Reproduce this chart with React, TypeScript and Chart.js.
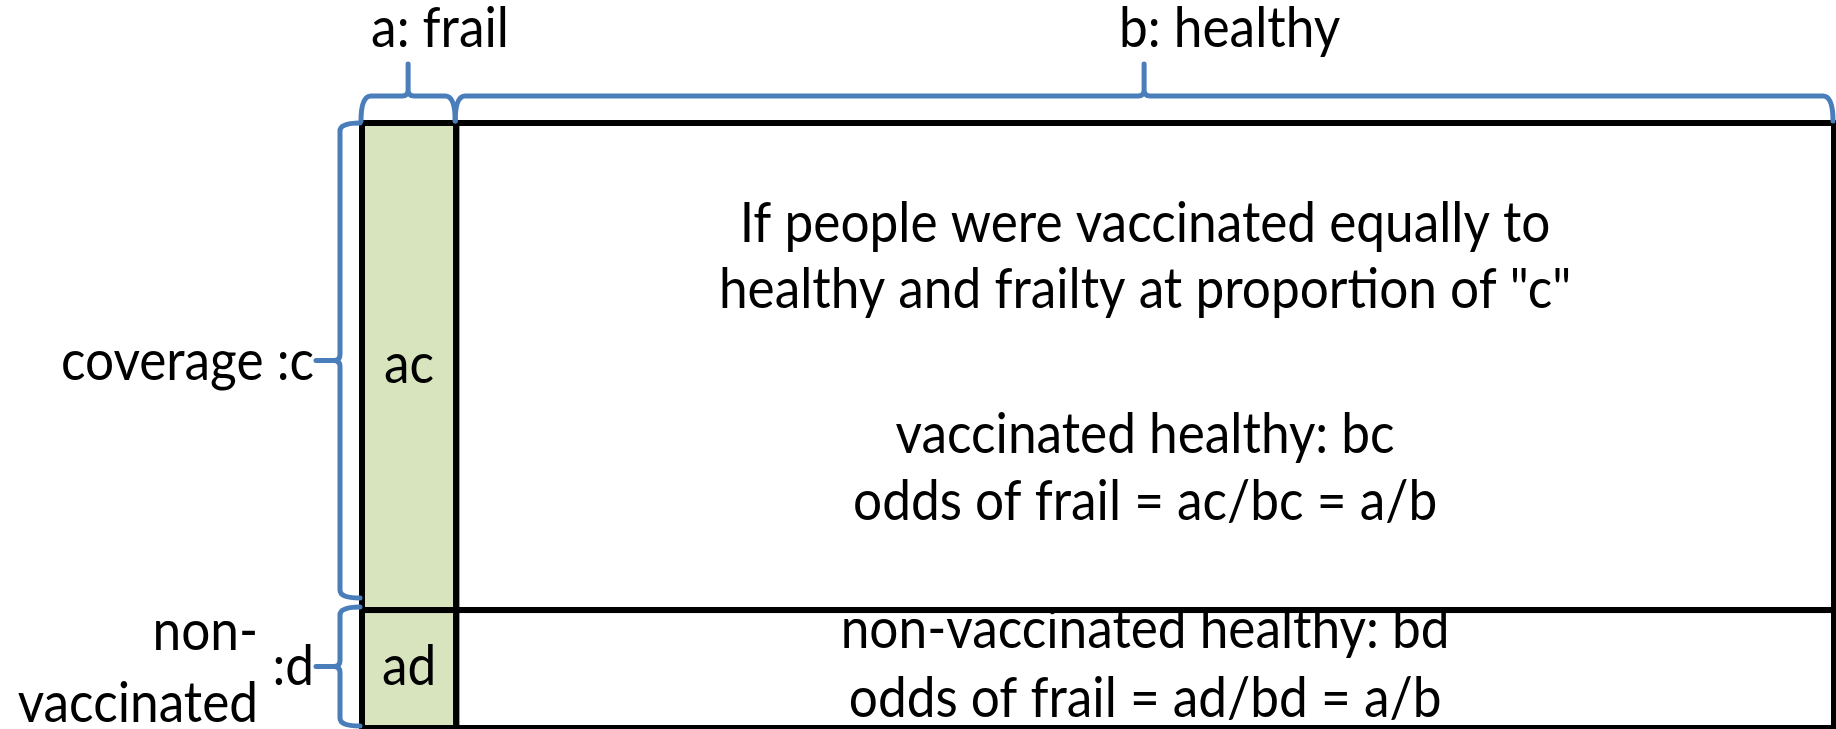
import React, { useEffect, useRef } from "react";
import { Chart, registerables } from "chart.js";

Chart.register(...registerables);

// ---------------- data ----------------
const columnLetters = ["a", "b"];
const columnCategories = ["frail", "healthy"];
const columnShares = [0.064, 0.936];

const rowLetters = ["c", "d"];
const rowTitleLines = [["coverage"], ["non-", "vaccinated"]];
const rowShares = [0.805, 0.195];

const cellLabels = [
  ["ac", "ad"],
  ["", ""],
];

const vaccinatedNotes = [
  "If people were vaccinated equally to",
  'healthy and frailty at proportion of "c"',
  "",
  "vaccinated healthy: bc",
  "odds of frail = ac/bc = a/b",
];
const nonVaccinatedNotes = [
  "non-vaccinated healthy: bd",
  "odds of frail = ad/bd = a/b",
];

// ---------------- drawing helpers ----------------
function hBrace(ctx: CanvasRenderingContext2D, x0: number, x1: number, yEnd: number, yLine: number, xTip: number, yTip: number) {
  const r = 10;
  const t = 6;
  ctx.beginPath();
  ctx.moveTo(x0, yEnd);
  ctx.quadraticCurveTo(x0, yLine, x0 + r, yLine);
  ctx.lineTo(xTip - t, yLine);
  ctx.quadraticCurveTo(xTip, yLine, xTip, yLine - t);
  ctx.lineTo(xTip, yTip);
  ctx.moveTo(xTip, yLine - t);
  ctx.quadraticCurveTo(xTip, yLine, xTip + t, yLine);
  ctx.lineTo(x1 - r, yLine);
  ctx.quadraticCurveTo(x1, yLine, x1, yEnd);
  ctx.stroke();
}

function vBrace(ctx: CanvasRenderingContext2D, y0: number, y1: number, xEnd: number, xLine: number, xTip: number, yTip: number) {
  const r = 8;
  const t = 6;
  ctx.beginPath();
  ctx.moveTo(xEnd, y0);
  ctx.quadraticCurveTo(xLine, y0, xLine, y0 + r);
  ctx.lineTo(xLine, yTip - t);
  ctx.quadraticCurveTo(xLine, yTip, xLine - t, yTip);
  ctx.lineTo(xTip, yTip);
  ctx.moveTo(xLine - t, yTip);
  ctx.quadraticCurveTo(xLine, yTip, xLine, yTip + t);
  ctx.lineTo(xLine, y1 - r);
  ctx.quadraticCurveTo(xLine, y1, xEnd, y1);
  ctx.stroke();
}

function drawText(ctx: CanvasRenderingContext2D, s: string, x: number, y: number, align: CanvasTextAlign, sx: number) {
  ctx.save();
  ctx.translate(x, y);
  ctx.scale(sx, 1);
  ctx.textAlign = align;
  ctx.fillText(s, 0, 0);
  ctx.restore();
}

const mosaicPlugin = {
  id: "mosaic",
  afterDraw(chart: any) {
    const { ctx, scales } = chart;
    const xs = scales.x;
    const ys = scales.y;
    const xEdges = [0];
    columnShares.forEach((s) => xEdges.push(xEdges[xEdges.length - 1] + s));
    const yEdges = [0];
    rowShares.forEach((s) => yEdges.push(yEdges[yEdges.length - 1] + s));
    const px = xEdges.map((v) => xs.getPixelForValue(v));
    const py = yEdges.map((v) => ys.getPixelForValue(v));

    ctx.save();
    // cells
    columnShares.forEach((_, i) => {
      rowShares.forEach((__, j) => {
        ctx.fillStyle = i === 0 ? "#d7e4bd" : "#ffffff";
        ctx.fillRect(px[i], py[j], px[i + 1] - px[i], py[j + 1] - py[j]);
      });
    });
    ctx.strokeStyle = "#000000";
    ctx.lineWidth = 6;
    ctx.lineJoin = "miter";
    columnShares.forEach((_, i) => {
      rowShares.forEach((__, j) => {
        ctx.strokeRect(px[i], py[j], px[i + 1] - px[i], py[j + 1] - py[j]);
      });
    });

    // braces
    ctx.strokeStyle = "#4a7ebb";
    ctx.lineWidth = 5;
    ctx.lineCap = "round";
    ctx.lineJoin = "round";
    const topTips: number[] = [];
    columnShares.forEach((_, i) => {
      const x0 = px[i] - 1;
      const x1 = px[i + 1] - 1;
      const tip = (x0 + x1) / 2;
      topTips.push(tip);
      hBrace(ctx, x0, x1, py[0] - 2, py[0] - 27, tip, py[0] - 59);
    });
    const sideTips: number[] = [];
    rowShares.forEach((_, j) => {
      const y0 = j === 0 ? py[j] : py[j] - 3;
      const y1 = j === rowShares.length - 1 ? py[j + 1] - 2 : py[j + 1] - 12;
      const tip = (y0 + y1) / 2;
      sideTips.push(tip);
      vBrace(ctx, y0, y1, px[0] - 2, px[0] - 22, px[0] - 46, tip);
    });

    // text: Calibri-like proportions (taller glyphs, narrower advance)
    const family = "Lato, 'Open Sans', sans-serif";
    ctx.font = `100px ${family}`;
    const fitSize = (100 * 609) / ctx.measureText(nonVaccinatedNotes[0]).width;
    const size = fitSize * 1.11;
    const sx = fitSize / size;
    ctx.font = `${size}px ${family}`;
    ctx.fillStyle = "#000000";
    ctx.textBaseline = "alphabetic";

    // column headers
    const headerOffsets = [-37, -25];
    columnLetters.forEach((l, i) => {
      drawText(ctx, `${l}: ${columnCategories[i]}`, topTips[i] + headerOffsets[i], 47, "left", sx);
    });

    // cell labels
    cellLabels.forEach((col, i) => {
      col.forEach((lab, j) => {
        if (!lab) return;
        const cx = (px[i] + px[i + 1]) / 2;
        const cy = (py[j] + py[j + 1]) / 2;
        drawText(ctx, lab, cx, cy + 16, "center", sx);
      });
    });

    // row titles
    const labelRight = px[0] - 48;
    drawText(ctx, `${rowTitleLines[0].join(" ")} :${rowLetters[0]}`, labelRight, sideTips[0] + 19, "right", sx);
    drawText(ctx, `:${rowLetters[1]}`, labelRight, sideTips[1] + 18, "right", sx);
    drawText(ctx, rowTitleLines[1][0], px[0] - 104, sideTips[1] - 17, "right", sx);
    drawText(ctx, rowTitleLines[1][1], px[0] - 104, sideTips[1] + 55, "right", sx);

    // notes inside healthy column
    const bx = (px[1] + px[2]) / 2;
    const topBaselines = [242, 308, 0, 453, 520];
    vaccinatedNotes.forEach((s, k) => {
      if (s) drawText(ctx, s, bx, topBaselines[k], "center", sx);
    });
    const botBaselines = [648, 717];
    nonVaccinatedNotes.forEach((s, k) => drawText(ctx, s, bx, botBaselines[k], "center", sx));

    ctx.restore();
  },
};

export default function App() {
  const ref = useRef<HTMLCanvasElement | null>(null);
  useEffect(() => {
    document.body.style.margin = "0";
    if (!ref.current) return;
    const chart = new Chart(ref.current, {
      type: "scatter",
      data: { datasets: [{ data: [] }] },
      options: {
        responsive: false,
        animation: false,
        devicePixelRatio: 1,
        layout: { padding: { left: 362, right: 2, top: 123, bottom: 1 } },
        plugins: { legend: { display: false }, tooltip: { enabled: false } },
        scales: {
          x: { type: "linear", min: 0, max: 1, display: false },
          y: { type: "linear", min: 0, max: 1, reverse: true, display: false },
        },
      },
      plugins: [mosaicPlugin],
    } as any);
    return () => chart.destroy();
  }, []);
  return (
    <div style={{ position: "fixed", left: 0, top: 0, width: 1836, height: 729, background: "#fff" }}>
      <canvas ref={ref} width={1836} height={729} style={{ width: 1836, height: 729, display: "block" }} />
    </div>
  );
}
